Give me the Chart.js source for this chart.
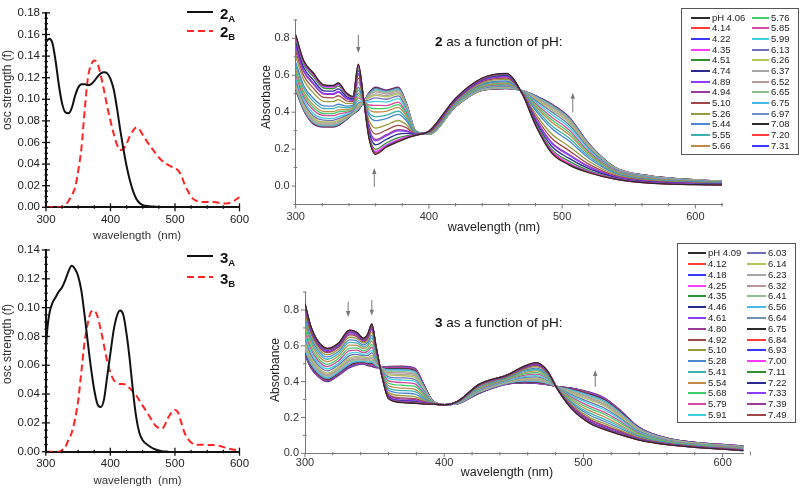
<!DOCTYPE html>
<html>
<head>
<meta charset="utf-8">
<title>Oscillator strengths and pH titration spectra of 2 and 3</title>
<script src="https://cdn.jsdelivr.net/npm/chart.js@4.4.1/dist/chart.umd.min.js"></script>
<style>
  html, body { margin: 0; padding: 0; background: #fff; }
  #page { position: relative; width: 800px; height: 489px; overflow: hidden;
          font-family: "Liberation Sans", Arial, Helvetica, sans-serif; color: #222; }
  #page canvas { position: absolute; left: 0; top: 0; }
  .txt { position: absolute; white-space: pre; line-height: 1; }
  .mid { transform: translate(-50%, -50%); }
  .rot { transform: translate(-50%, -50%) rotate(-90deg); }
  .vmid { transform: translateY(-50%); }
  .lgbox { position: absolute; border: 1px solid #555; box-sizing: border-box; }
  .swatch { position: absolute; height: 2px; }
  .lgtxt { position: absolute; font-size: 9.5px; line-height: 1; transform: translateY(-50%); color: #222; white-space: pre; }
</style>
</head>
<body>
<div id="page">
  <canvas id="osc2" width="800" height="489"></canvas>
  <canvas id="osc3" width="800" height="489"></canvas>
  <canvas id="titr2" width="800" height="489"></canvas>
  <canvas id="titr3" width="800" height="489"></canvas>
</div>
<script>
// ---- oscillator strengths, compound 2 (top left) ----
const wl2A = [300,305,310,315,320,325,330,335,340,345,350,355,360,365,370,375,380,385,390,395,400,405,410,415,420,425,430,435,440,445,450,460,470,480];
const f2A  = [0.153,0.156,0.152,0.135,0.113,0.096,0.088,0.087,0.092,0.103,0.111,0.114,0.114,0.113,0.114,0.117,0.121,0.124,0.125,0.124,0.119,0.109,0.092,0.072,0.054,0.038,0.025,0.015,0.008,0.004,0.002,0.001,0.0005,0];
const wl2B = [300,310,320,325,330,335,340,345,350,355,360,365,370,375,380,385,390,395,400,405,410,415,420,425,430,435,440,445,450,460,470,480,490,500,505,510,515,520,525,530,540,550,560,570,580,590,600];
const f2B  = [0,0,0,0.0003,0.002,0.006,0.011,0.018,0.034,0.055,0.090,0.120,0.132,0.136,0.133,0.122,0.108,0.093,0.080,0.068,0.058,0.053,0.054,0.059,0.066,0.071,0.074,0.072,0.067,0.058,0.050,0.043,0.039,0.036,0.034,0.029,0.021,0.015,0.010,0.007,0.005,0.0048,0.0048,0.004,0.0035,0.0055,0.0095];

// ---- oscillator strengths, compound 3 (bottom left) ----
const wl3A = [300,303,306,310,315,320,325,330,335,340,345,350,355,360,365,370,375,380,385,390,395,400,405,410,415,420,425,430,435,440,445,450,460,470,480,490];
const f3A  = [0.072,0.088,0.097,0.103,0.107,0.111,0.114,0.119,0.125,0.129,0.127,0.122,0.112,0.095,0.076,0.058,0.043,0.033,0.031,0.036,0.052,0.068,0.084,0.094,0.098,0.095,0.082,0.064,0.042,0.024,0.013,0.008,0.004,0.0015,0.0003,0];
const wl3B = [300,310,320,325,330,335,340,345,350,355,360,365,370,375,380,385,390,395,400,405,410,415,420,425,430,440,450,460,470,480,490,500,505,510,515,520,530,540,550,560,570,580,590,600];
const f3B  = [0,0,0,0.001,0.003,0.008,0.013,0.022,0.035,0.055,0.076,0.089,0.097,0.098,0.094,0.085,0.074,0.063,0.055,0.050,0.048,0.047,0.047,0.046,0.044,0.039,0.032,0.025,0.018,0.016,0.024,0.029,0.027,0.020,0.013,0.009,0.005,0.0048,0.0047,0.0046,0.004,0.0025,0.0015,0.001];

// ---- absorbance of 2 vs pH (top right), one row per pH ----
const wl2 = [300,306,313,321,328,332,338,343,347,351,355,360,368,377,383,390,400,420,440,458,470,480,492,505,520,540,565,620];
const ph2 = ["pH 4.06","4.14","4.22","4.35","4.51","4.74","4.89","4.94","5.10","5.26","5.44","5.55","5.66",
             "5.76","5.85","5.99","6.13","6.26","6.37","6.52","6.65","6.75","6.97","7.08","7.20","7.31"];
const abs2 = [
  [.820,.680,.615,.548,.545,.558,.505,.485,.660,.470,.260,.172,.210,.240,.258,.275,.297,.475,.585,.610,.500,.330,.180,.115,.072,.037,.016,.006],
  [.817,.677,.612,.546,.543,.556,.504,.484,.658,.470,.262,.176,.213,.243,.260,.275,.297,.475,.584,.609,.500,.332,.183,.118,.074,.038,.016,.006],
  [.814,.675,.609,.543,.540,.553,.502,.483,.655,.470,.265,.179,.216,.246,.262,.276,.297,.474,.584,.608,.500,.333,.185,.120,.075,.038,.017,.006],
  [.808,.669,.604,.539,.536,.549,.499,.481,.650,.469,.270,.187,.222,.252,.266,.276,.296,.473,.582,.607,.501,.336,.191,.125,.078,.040,.018,.007],
  [.798,.660,.594,.531,.528,.541,.494,.478,.641,.469,.278,.199,.233,.262,.272,.277,.296,.472,.580,.604,.501,.342,.200,.135,.084,.042,.019,.007],
  [.778,.642,.576,.516,.514,.526,.485,.472,.625,.468,.294,.223,.253,.281,.285,.279,.295,.469,.576,.599,.502,.352,.217,.151,.094,.046,.022,.009],
  [.760,.626,.560,.502,.500,.512,.476,.466,.610,.467,.309,.245,.272,.299,.296,.280,.294,.466,.572,.594,.503,.362,.233,.167,.104,.050,.024,.010],
  [.754,.621,.554,.498,.496,.507,.473,.464,.605,.467,.314,.252,.278,.305,.300,.281,.293,.465,.570,.592,.504,.365,.238,.172,.107,.051,.025,.010],
  [.730,.599,.532,.480,.478,.489,.462,.457,.585,.466,.334,.281,.303,.329,.316,.283,.292,.462,.565,.585,.505,.378,.260,.193,.119,.056,.028,.012],
  [.703,.575,.507,.459,.457,.468,.448,.448,.563,.464,.356,.314,.331,.355,.333,.285,.290,.457,.559,.578,.507,.392,.283,.216,.134,.062,.032,.013],
  [.670,.545,.477,.434,.433,.443,.433,.438,.535,.463,.383,.354,.365,.388,.354,.288,.289,.453,.552,.569,.509,.410,.313,.245,.151,.069,.036,.016],
  [.652,.529,.460,.420,.419,.429,.424,.432,.520,.462,.397,.375,.384,.405,.366,.289,.288,.450,.548,.564,.510,.420,.328,.261,.161,.072,.038,.017],
  [.631,.510,.441,.404,.403,.413,.414,.425,.503,.461,.414,.401,.405,.426,.379,.291,.286,.447,.543,.558,.511,.431,.347,.279,.172,.077,.041,.018],
  [.616,.496,.427,.393,.392,.402,.406,.420,.490,.460,.427,.419,.421,.441,.389,.292,.285,.444,.539,.554,.512,.439,.360,.292,.179,.080,.043,.019],
  [.601,.483,.413,.382,.381,.390,.399,.416,.478,.459,.439,.437,.436,.455,.398,.293,.285,.442,.536,.550,.512,.447,.374,.305,.187,.083,.045,.020],
  [.583,.467,.396,.368,.367,.376,.390,.410,.463,.458,.454,.459,.455,.473,.410,.295,.284,.439,.532,.545,.513,.456,.389,.320,.197,.087,.048,.021],
  [.568,.453,.382,.357,.356,.365,.383,.405,.450,.457,.466,.477,.470,.488,.419,.296,.283,.437,.529,.541,.514,.464,.403,.333,.205,.090,.050,.022],
  [.556,.442,.371,.347,.347,.356,.377,.401,.440,.457,.476,.491,.483,.500,.427,.297,.282,.435,.526,.538,.515,.471,.413,.344,.211,.092,.051,.023],
  [.550,.437,.366,.343,.343,.351,.375,.400,.435,.457,.481,.499,.489,.506,.431,.298,.282,.435,.525,.536,.515,.474,.419,.349,.214,.094,.052,.023],
  [.541,.429,.357,.336,.336,.344,.370,.397,.428,.456,.488,.510,.498,.514,.437,.298,.281,.433,.523,.534,.516,.479,.427,.357,.219,.096,.053,.024],
  [.535,.424,.352,.331,.331,.340,.367,.395,.423,.456,.493,.517,.505,.520,.440,.299,.281,.432,.521,.532,.516,.482,.432,.362,.222,.097,.054,.024],
  [.532,.421,.349,.329,.329,.337,.366,.394,.420,.456,.495,.521,.508,.523,.442,.299,.281,.432,.521,.531,.516,.484,.434,.365,.224,.098,.054,.024],
  [.526,.415,.344,.325,.325,.333,.363,.392,.415,.455,.500,.528,.514,.529,.446,.300,.280,.431,.519,.530,.517,.487,.440,.370,.227,.099,.055,.025],
  [.523,.413,.341,.322,.322,.330,.361,.391,.413,.455,.503,.531,.517,.532,.448,.300,.280,.430,.519,.529,.517,.488,.442,.372,.228,.099,.056,.025],
  [.522,.411,.339,.321,.321,.329,.361,.390,.411,.455,.504,.533,.518,.534,.449,.300,.280,.430,.518,.528,.517,.489,.444,.374,.229,.100,.056,.025],
  [.520,.410,.338,.320,.320,.328,.360,.390,.410,.455,.505,.535,.520,.535,.450,.300,.280,.430,.518,.528,.517,.490,.445,.375,.230,.100,.056,.025]
];

// ---- absorbance of 3 vs pH (bottom right), one row per pH ----
const wl3 = [300,304,309,316,324,332,337,342,345,348,351,355,360,370,379,385,392,400,410,425,445,458,466,474,482,492,505,515,525,540,560,615];
const ph3 = ["pH 4.09","4.12","4.18","4.25","4.35","4.46","4.61","4.80","4.92","5.10","5.28","5.41","5.54","5.68","5.79","5.91",
             "6.03","6.14","6.23","6.32","6.41","6.56","6.64","6.75","6.84","6.93","7.00","7.11","7.22","7.33","7.39","7.49"];
const abs3 = [
  [.837,.715,.630,.586,.615,.688,.677,.642,.665,.722,.600,.440,.305,.283,.279,.275,.275,.270,.292,.385,.437,.488,.506,.462,.350,.245,.165,.133,.107,.074,.049,.015],
  [.836,.714,.629,.585,.614,.687,.676,.641,.664,.721,.599,.440,.306,.284,.280,.276,.275,.270,.292,.385,.437,.488,.505,.462,.350,.246,.166,.134,.108,.074,.049,.015],
  [.834,.713,.628,.584,.613,.686,.675,.641,.663,.720,.599,.440,.307,.285,.281,.276,.275,.270,.292,.385,.437,.487,.505,.461,.350,.246,.167,.135,.108,.075,.049,.015],
  [.831,.710,.626,.582,.611,.684,.673,.639,.662,.717,.598,.441,.309,.287,.283,.277,.275,.270,.292,.384,.436,.486,.504,.460,.350,.247,.169,.137,.110,.075,.050,.016],
  [.828,.708,.624,.580,.610,.682,.671,.638,.660,.715,.596,.441,.310,.289,.285,.279,.276,.270,.292,.384,.436,.485,.503,.460,.351,.249,.170,.138,.111,.076,.050,.016],
  [.824,.704,.621,.578,.607,.679,.669,.636,.657,.711,.595,.442,.313,.292,.288,.280,.276,.270,.291,.383,.435,.484,.501,.458,.351,.250,.173,.141,.113,.077,.051,.016],
  [.818,.700,.617,.574,.603,.674,.665,.633,.654,.707,.592,.443,.317,.296,.292,.283,.276,.270,.291,.382,.434,.482,.499,.457,.351,.253,.176,.145,.116,.079,.051,.017],
  [.808,.692,.610,.567,.597,.667,.659,.628,.648,.698,.588,.444,.323,.303,.299,.287,.277,.270,.291,.380,.432,.479,.494,.454,.352,.257,.183,.151,.121,.081,.053,.018],
  [.800,.684,.604,.562,.592,.661,.653,.623,.642,.691,.584,.445,.328,.309,.305,.290,.277,.270,.290,.379,.430,.476,.491,.452,.353,.261,.188,.156,.126,.083,.054,.018],
  [.782,.670,.592,.551,.581,.648,.642,.615,.632,.677,.577,.448,.339,.322,.316,.297,.278,.270,.289,.376,.427,.470,.484,.447,.354,.268,.198,.167,.134,.088,.056,.020],
  [.762,.654,.579,.538,.568,.633,.629,.605,.620,.660,.568,.450,.352,.336,.330,.305,.279,.271,.288,.372,.424,.464,.476,.442,.356,.276,.211,.179,.144,.093,.058,.022],
  [.742,.637,.565,.525,.556,.619,.616,.595,.607,.644,.560,.453,.364,.350,.344,.313,.280,.271,.287,.369,.420,.457,.468,.436,.357,.284,.223,.191,.154,.097,.061,.023],
  [.722,.621,.551,.512,.543,.604,.603,.585,.595,.627,.551,.456,.377,.364,.357,.321,.281,.271,.286,.365,.417,.450,.460,.430,.359,.293,.235,.204,.164,.102,.063,.025],
  [.699,.602,.535,.497,.529,.587,.589,.573,.581,.608,.541,.459,.391,.380,.373,.330,.282,.271,.285,.361,.413,.443,.450,.424,.361,.302,.249,.218,.176,.108,.066,.027],
  [.679,.586,.521,.484,.516,.573,.576,.563,.569,.592,.533,.462,.404,.395,.387,.338,.283,.271,.284,.358,.409,.436,.442,.419,.362,.311,.261,.230,.186,.113,.069,.029],
  [.658,.569,.507,.471,.503,.558,.563,.553,.557,.575,.524,.465,.417,.409,.401,.346,.284,.271,.283,.354,.405,.430,.434,.413,.364,.319,.274,.243,.196,.118,.071,.031],
  [.641,.555,.495,.460,.493,.545,.552,.545,.546,.561,.517,.467,.427,.421,.412,.353,.285,.271,.283,.351,.402,.424,.427,.408,.365,.326,.284,.253,.204,.122,.074,.032],
  [.624,.541,.484,.448,.482,.533,.541,.536,.536,.547,.510,.470,.438,.433,.424,.360,.286,.272,.282,.348,.399,.418,.420,.404,.366,.333,.295,.264,.213,.127,.076,.034],
  [.612,.532,.476,.441,.475,.524,.534,.531,.529,.537,.505,.471,.445,.441,.432,.365,.287,.272,.281,.346,.397,.415,.416,.400,.367,.338,.302,.271,.219,.129,.077,.035],
  [.602,.524,.469,.434,.468,.517,.527,.525,.522,.529,.501,.473,.452,.449,.439,.369,.287,.272,.281,.344,.395,.411,.412,.398,.368,.342,.308,.277,.224,.132,.078,.035],
  [.592,.515,.462,.428,.462,.510,.521,.520,.516,.520,.496,.474,.458,.456,.446,.373,.288,.272,.280,.343,.394,.408,.407,.395,.369,.346,.314,.284,.229,.134,.080,.036],
  [.581,.506,.454,.421,.455,.501,.513,.515,.509,.511,.491,.476,.465,.464,.453,.377,.288,.272,.280,.341,.392,.404,.403,.392,.370,.351,.321,.291,.234,.137,.081,.037],
  [.575,.501,.450,.417,.451,.497,.510,.512,.506,.506,.489,.476,.469,.468,.457,.380,.289,.272,.279,.340,.391,.403,.400,.390,.370,.353,.324,.294,.237,.139,.082,.038],
  [.569,.496,.446,.413,.448,.493,.506,.509,.502,.502,.487,.477,.472,.472,.461,.382,.289,.272,.279,.339,.390,.401,.398,.389,.371,.356,.328,.298,.240,.140,.083,.038],
  [.565,.493,.443,.410,.445,.490,.503,.507,.500,.498,.485,.478,.475,.475,.464,.384,.289,.272,.279,.338,.389,.399,.396,.387,.371,.358,.330,.300,.242,.141,.083,.039],
  [.562,.491,.441,.408,.443,.487,.501,.505,.498,.496,.484,.478,.477,.477,.466,.385,.289,.272,.279,.337,.388,.398,.395,.387,.371,.359,.332,.302,.244,.142,.083,.039],
  [.559,.488,.439,.407,.441,.485,.499,.504,.496,.493,.482,.479,.479,.479,.468,.386,.289,.272,.278,.337,.388,.397,.394,.386,.371,.360,.334,.304,.245,.143,.084,.039],
  [.556,.486,.437,.405,.440,.483,.498,.503,.494,.491,.481,.479,.481,.481,.470,.387,.290,.272,.278,.336,.387,.396,.393,.385,.371,.361,.336,.306,.246,.143,.084,.039],
  [.553,.484,.435,.403,.438,.481,.496,.501,.493,.489,.480,.479,.482,.483,.472,.388,.290,.272,.278,.336,.387,.395,.392,.384,.372,.362,.337,.307,.248,.144,.084,.040],
  [.552,.482,.434,.402,.437,.480,.495,.500,.492,.487,.479,.480,.483,.484,.473,.389,.290,.272,.278,.336,.387,.395,.391,.384,.372,.363,.338,.308,.249,.144,.085,.040],
  [.550,.481,.433,.401,.436,.479,.494,.500,.491,.486,.479,.480,.484,.485,.474,.389,.290,.272,.278,.335,.386,.394,.391,.383,.372,.363,.339,.309,.249,.145,.085,.040],
  [.549,.480,.432,.400,.435,.478,.493,.499,.490,.485,.478,.480,.485,.486,.475,.390,.290,.272,.278,.335,.386,.394,.390,.383,.372,.364,.340,.310,.250,.145,.085,.040]
];

// trend arrows: [wavelength, absorbance at tail, absorbance at head]
const arrows2 = [[347, 0.82, 0.72], [359, -0.005, 0.098], [508, 0.40, 0.505]];
const arrows3 = [[331, 0.846, 0.761], [348, 0.855, 0.768], [508.5, 0.372, 0.465]];

// Origin-style colour cycle used for the titration curves
const CYCLE = ["#2b2b2b","#ff3b3b","#3a3aff","#ff3bff","#2f8f2f","#2b2b8f","#8f3bff","#9a3a9a","#a04848","#9a9a3a","#4a86d0",
               "#3fb0b0","#c08a4a","#3fcf6a","#d24a9a","#40d0e0","#6f6fb8","#b4c25a","#a6a6a6","#b89898","#8fbf8f","#48b8e8","#7090c0"];

Chart.defaults.font.family = '"Liberation Sans", Arial, Helvetica, sans-serif';

// minor/major tick marks and trend arrows, drawn through the chart's own scales
const decor = {
  id: "decor",
  afterDraw(chart, args, o) {
    const { ctx, chartArea: a, scales: { x, y } } = chart;
    const seg = (x1, y1, x2, y2) => { ctx.beginPath(); ctx.moveTo(x1, y1); ctx.lineTo(x2, y2); ctx.stroke(); };
    const isMajor = (v, step) => Math.abs(v / step - Math.round(v / step)) < 1e-6;
    ctx.save();
    ctx.strokeStyle = o.color;
    ctx.lineWidth = o.width;
    const nx = Math.round((x.max - x.min) / o.xMinor);
    for (let i = 0; i <= nx; i++) {
      const v = x.min + i * o.xMinor;
      const [inn, out] = isMajor(v, o.xMajor) ? o.major : o.minor;
      const p = x.getPixelForValue(v);
      seg(p, a.bottom - inn, p, a.bottom + out);
    }
    const ny = Math.round((y.max - y.min) / o.yMinor);
    for (let i = 0; i <= ny; i++) {
      const v = y.min + i * o.yMinor;
      const [inn, out] = isMajor(v, o.yMajor) ? o.major : o.minor;
      const p = y.getPixelForValue(v);
      seg(a.left - out, p, a.left + inn, p);
    }
    ctx.strokeStyle = "#777";
    ctx.fillStyle = "#777";
    ctx.lineWidth = 1;
    (o.arrows || []).forEach(([wl, from, to]) => {
      const px = x.getPixelForValue(wl);
      const p1 = y.getPixelForValue(from), p2 = y.getPixelForValue(to);
      const dir = Math.sign(p2 - p1);
      seg(px, p1, px, p2 - dir * 3);
      ctx.beginPath();
      ctx.moveTo(px, p2);
      ctx.lineTo(px - 2.2, p2 - dir * 6);
      ctx.lineTo(px + 2.2, p2 - dir * 6);
      ctx.closePath();
      ctx.fill();
    });
    ctx.restore();
  }
};

function makeChart(id, c) {
  const [left, top, right, bottom] = c.area;
  const axis = (range, step, dec, pad, fit) => ({
    type: "linear", min: range[0], max: range[1],
    afterFit: fit,
    border: { display: true, color: c.axisColor, width: c.axisWidth },
    grid: { display: true, drawOnChartArea: false, drawTicks: false },
    ticks: { stepSize: step, includeBounds: false, autoSkip: false, maxRotation: 0, padding: pad,
             color: c.tickColor, font: { size: c.tickSize }, callback: v => dec === null ? v : Number(v).toFixed(dec) }
  });
  return new Chart(document.getElementById(id), {
    type: "line",
    data: { datasets: c.datasets },
    options: {
      responsive: false, animation: false, events: [], devicePixelRatio: 1,
      layout: { padding: { left: left - c.yw, top: top, right: 800 - right, bottom: 489 - bottom - c.xh } },
      elements: { point: { radius: 0 }, line: { cubicInterpolationMode: "monotone", fill: false } },
      plugins: { legend: { display: false }, tooltip: { enabled: false }, decor: c.decor },
      scales: {
        x: axis(c.x, c.xStep, null, c.xpad, s => { s.height = c.xh; }),
        y: axis(c.y, c.yStep, c.yDec, c.ypad, s => { s.width = c.yw; })
      }
    },
    plugins: [decor]
  });
}

const pts = (xs, ys) => xs.map((x, i) => ({ x, y: ys[i] }));
const titration = (wl, rows, labels) => rows.map((row, i) => ({
  label: labels[i], data: pts(wl, row), borderColor: CYCLE[i % CYCLE.length], borderWidth: 1.3
}));
const oscSets = (wa, fa, wb, fb, name) => [
  { label: name + "A", data: pts(wa, fa), borderColor: "#111", borderWidth: 2 },
  { label: name + "B", data: pts(wb, fb), borderColor: "#ff2424", borderWidth: 2, borderDash: [7, 4] }
];

const leftStyle = { axisColor: "#111", axisWidth: 2, tickColor: "#222", tickSize: 11.5, yw: 40, xh: 26,
                    x: [300, 600], xStep: 100, yStep: 0.02, yDec: 2, ypad: 6 };
const leftDecor = { xMinor: 25, xMajor: 100, yMinor: 0.005, yMajor: 0.02, major: [4, 4], minor: [2, 1.5], color: "#111", width: 1.3 };
const rightStyle = { axisColor: "#777", axisWidth: 1, tickColor: "#333", tickSize: 11, yw: 30, xh: 22,
                     xStep: 100, yStep: 0.2, yDec: 1, ypad: 6 };
const rightDecor = { xMinor: 20, xMajor: 100, yMinor: 0.1, yMajor: 0.2, major: [0, 4], minor: [1.5, 2], color: "#777", width: 1 };

makeChart("osc2", { ...leftStyle, area: [46, 6, 239.5, 207.3], y: [0, 0.18], xpad: 6,
  datasets: oscSets(wl2A, f2A, wl2B, f2B, "2"), decor: leftDecor });
makeChart("osc3", { ...leftStyle, area: [45.8, 250, 239.5, 451.7], y: [0, 0.14], xpad: 5.5,
  datasets: oscSets(wl3A, f3A, wl3B, f3B, "3"), decor: leftDecor });
makeChart("titr2", { ...rightStyle, area: [295.7, 20.8, 722, 204.5], x: [300, 620], y: [-0.1, 0.895], xpad: 5.5,
  datasets: titration(wl2, abs2, ph2), decor: { ...rightDecor, arrows: arrows2 } });
makeChart("titr3", { ...rightStyle, area: [305, 292.1, 743.5, 453.3], x: [300, 615], y: [0, 0.9], xpad: 3.5,
  datasets: titration(wl3, abs3, ph3), decor: { ...rightDecor, arrows: arrows3 } });

// ---- text and legends ----
const page = document.getElementById("page");
function addText(html, x, y, cls, css) {
  const d = document.createElement("div");
  d.className = "txt " + cls;
  d.innerHTML = html;
  d.style.left = x + "px";
  d.style.top = y + "px";
  Object.assign(d.style, css || {});
  page.appendChild(d);
  return d;
}

addText("osc strength (f)", 7, 90, "rot", { fontSize: "12px", color: "#333" });
addText("osc strength (f)", 6.5, 344, "rot", { fontSize: "12px", color: "#333" });
addText("wavelength  (nm)", 137, 236, "mid", { fontSize: "11.5px", color: "#333" });
addText("wavelength  (nm)", 137.5, 481, "mid", { fontSize: "11.5px", color: "#333" });
addText("Absorbance", 266, 97, "rot", { fontSize: "12px", color: "#222" });
addText("Absorbance", 275, 370, "rot", { fontSize: "12px", color: "#222" });
addText("wavelength (nm)", 494, 227, "mid", { fontSize: "12.5px", color: "#222" });
addText("wavelength (nm)", 507, 472, "mid", { fontSize: "12.5px", color: "#222" });
addText("<b>2</b> as a function of pH:", 435, 42, "vmid", { fontSize: "13.5px", color: "#111" });
addText("<b>3</b> as a function of pH:", 435, 323, "vmid", { fontSize: "13.5px", color: "#111" });

function oscLegend(name, y1, y2) {
  [[y1, "A", "#111", false], [y2, "B", "#ff2424", true]].forEach(([y, sub, col, dashed]) => {
    const s = document.createElement("div");
    s.className = "swatch";
    Object.assign(s.style, { left: "187px", top: (y - 1) + "px", width: "26px",
      background: dashed ? `repeating-linear-gradient(90deg, ${col} 0 7px, transparent 7px 11px)` : col });
    page.appendChild(s);
    addText(`<b style="font-size:15px">${name}</b><b style="font-size:9.5px;position:relative;top:3px">${sub}</b>`,
            220, y + 1.5, "vmid", { color: "#111" });
  });
}
oscLegend("2", 12.3, 30.7);
oscLegend("3", 256, 277.3);

function titrLegend(labels, box, cols, y0, dy, perCol) {
  const b = document.createElement("div");
  b.className = "lgbox";
  Object.assign(b.style, { left: box[0] + "px", top: box[1] + "px", width: box[2] + "px", height: box[3] + "px" });
  page.appendChild(b);
  labels.forEach((lab, i) => {
    const [x1, x2, xt] = cols[Math.floor(i / perCol)];
    const y = y0 + (i % perCol) * dy;
    const s = document.createElement("div");
    s.className = "swatch";
    Object.assign(s.style, { left: x1 + "px", top: (y - 1) + "px", width: (x2 - x1) + "px", background: CYCLE[i % CYCLE.length] });
    page.appendChild(s);
    const t = document.createElement("div");
    t.className = "lgtxt";
    t.textContent = lab;
    Object.assign(t.style, { left: xt + "px", top: y + "px" });
    page.appendChild(t);
  });
}
titrLegend(ph2, [681, 8, 118, 147], [[691, 710, 712], [752, 769, 771]], 17.7, 10.67, 13);
titrLegend(ph3, [677, 243, 119, 180], [[688, 706, 708], [747, 766, 768]], 253.3, 10.78, 16);
</script>
</body>
</html>
